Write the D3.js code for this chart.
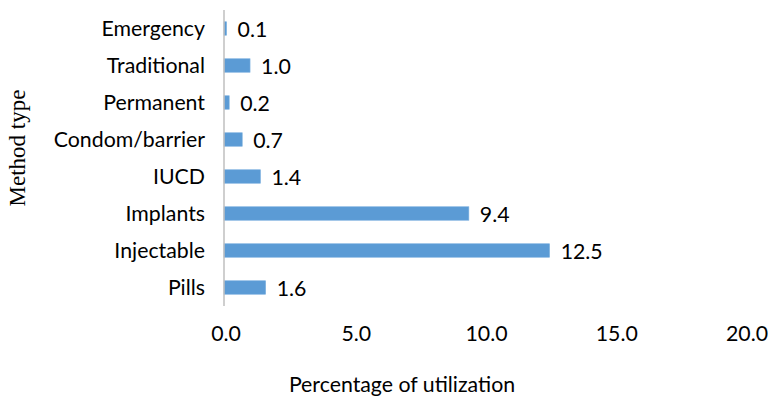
<!DOCTYPE html>
<html><head><meta charset="utf-8">
<script src="https://cdn.jsdelivr.net/npm/d3@7"></script>
<style>body{margin:0;background:#fff}svg{display:block}</style>
</head><body><svg id="c" width="768" height="396"></svg>
<script>
const categories = ["Emergency","Traditional","Permanent","Condom/barrier","IUCD","Implants","Injectable","Pills"];
const values = [0.1,1.0,0.2,0.7,1.4,9.4,12.5,1.6];
const xTicks = [0,5,10,15,20];
const xTitle = "Percentage of utilization";
const yTitle = "Method type";

const svg = d3.select("#c");
const font = "Lato, 'Open Sans', sans-serif";
const fs = 21.3;
const x = d3.scaleLinear().domain([0,20]).range([224,745]);
const y = d3.scaleBand().domain(categories).range([10,306]).paddingInner(0.635).paddingOuter(0.3175);

svg.selectAll("rect.bar").data(categories).enter().append("rect")
  .attr("x", x(0)).attr("y", d=>y(d))
  .attr("width", (d,i)=>x(values[i])-x(0)).attr("height", y.bandwidth())
  .attr("fill","#5B9BD5").attr("stroke","#7FB2E0").attr("stroke-width",0.6);

svg.append("line").attr("x1",x(0)).attr("x2",x(0)).attr("y1",10).attr("y2",306)
  .attr("stroke","#BFBFBF").attr("stroke-width",1.5);

svg.selectAll("text.cat").data(categories).enter().append("text")
  .attr("x",205).attr("y",d=>y(d)+y.bandwidth()/2).attr("dy","0.36em")
  .attr("text-anchor","end").attr("font-family",font).attr("font-size",fs).attr("fill","#000")
  .text(d=>d);

svg.selectAll("text.val").data(categories).enter().append("text")
  .attr("x",(d,i)=>x(values[i])+11).attr("y",d=>y(d)+y.bandwidth()/2).attr("dy","0.42em")
  .attr("font-family",font).attr("font-size",fs).attr("fill","#000")
  .text((d,i)=>values[i].toFixed(1));

svg.selectAll("text.tick").data(xTicks).enter().append("text")
  .attr("x",d=>x(d)+2).attr("y",333).attr("dy","0.36em").attr("text-anchor","middle")
  .attr("font-family",font).attr("font-size",fs).attr("fill","#000")
  .text(d=>d.toFixed(1));

svg.append("text").attr("x",402).attr("y",392).attr("text-anchor","middle")
  .attr("font-family",font).attr("font-size",fs).attr("fill","#000").text(xTitle);

svg.append("text").attr("transform","translate(25,148) rotate(-90)").attr("text-anchor","middle")
  .attr("font-family","'Liberation Serif', 'DejaVu Serif', serif").attr("font-size",23).attr("fill","#000").text(yTitle);
</script></body></html>
